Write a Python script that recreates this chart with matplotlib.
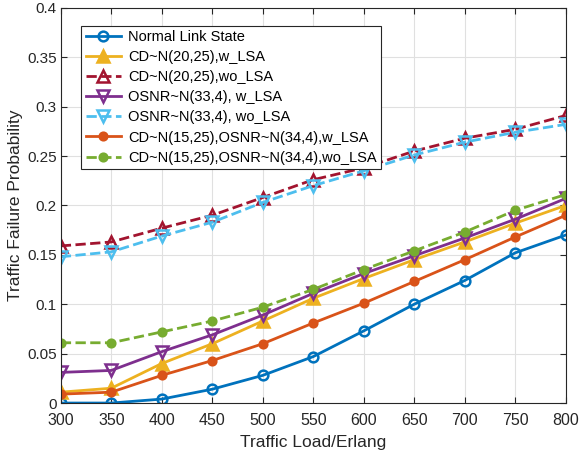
import numpy as np
import matplotlib
matplotlib.use("Agg")
import matplotlib.pyplot as plt

plt.rcParams.update({
    "font.family": ["Liberation Sans", "DejaVu Sans"],
    "font.size": 10,
})

load = [300, 350, 400, 450, 500, 550, 600, 650, 700, 750, 800]
normal = [0.0, 0.0, 0.004, 0.014, 0.028, 0.047, 0.073, 0.100, 0.124, 0.152, 0.170]
cd_w = [0.011, 0.015, 0.040, 0.060, 0.083, 0.106, 0.126, 0.145, 0.163, 0.182, 0.200]
cd_wo = [0.159, 0.163, 0.177, 0.190, 0.208, 0.226, 0.238, 0.255, 0.268, 0.277, 0.291]
osnr_w = [0.031, 0.033, 0.052, 0.069, 0.089, 0.111, 0.131, 0.149, 0.167, 0.186, 0.207]
osnr_wo = [0.148, 0.153, 0.169, 0.183, 0.203, 0.220, 0.235, 0.251, 0.264, 0.274, 0.282]
both_w = [0.009, 0.011, 0.028, 0.043, 0.060, 0.081, 0.101, 0.123, 0.145, 0.168, 0.190]
both_wo = [0.061, 0.061, 0.072, 0.083, 0.097, 0.115, 0.135, 0.154, 0.173, 0.195, 0.211]

series = [
    (normal, "Normal Link State", "#0072BD", "-", "o", "none", 7),
    (cd_w, "CD~N(20,25),w_LSA", "#EDB120", "-", "^", "#EDB120", 8),
    (cd_wo, "CD~N(20,25),wo_LSA", "#A2142F", "--", "^", "none", 8),
    (osnr_w, "OSNR~N(33,4), w_LSA", "#7E2F8E", "-", "v", "none", 8),
    (osnr_wo, "OSNR~N(33,4), wo_LSA", "#4DBEEE", "--", "v", "none", 8),
    (both_w, "CD~N(15,25),OSNR~N(34,4),w_LSA", "#D95319", "-", "o", "#D95319", 5.5),
    (both_wo, "CD~N(15,25),OSNR~N(34,4),wo_LSA", "#77AC30", "--", "o", "#77AC30", 5.5),
]

fig = plt.figure(figsize=(5.79, 4.58), dpi=100)
ax = fig.add_axes([0.105, 0.12, 0.872, 0.863])
for y, lbl, c, ls, m, fc, ms in series:
    ax.plot(load, y, color=c, linestyle=ls, linewidth=2, marker=m,
            markerfacecolor=fc, markeredgecolor=c, markeredgewidth=1.8,
            markersize=ms, label=lbl)

ax.set_xlim(300, 800)
ax.set_ylim(0, 0.4)
ax.set_xticks(load)
ax.set_yticks(np.arange(0, 0.41, 0.05))
ax.set_yticklabels(["0", "0.05", "0.1", "0.15", "0.2", "0.25", "0.3", "0.35", "0.4"])
ax.grid(True, color="#e0e0e0", linewidth=0.8)
ax.set_axisbelow(True)
ax.tick_params(direction="in", top=True, right=True, length=4,
               color="#262626", labelcolor="#262626")
ax.tick_params(axis="x", pad=7, labelsize=11.5)
ax.tick_params(axis="y", pad=3, labelsize=11)
for s in ax.spines.values():
    s.set_color("#262626")
    s.set_linewidth(0.8)
ax.set_xlabel("Traffic Load/Erlang", fontsize=12.5, color="#262626", labelpad=5)
ax.set_ylabel("Traffic Failure Probability", fontsize=12.5, color="#262626", labelpad=3)
leg = ax.legend(loc="upper left", bbox_to_anchor=(0.041, 0.955), fontsize=10.5,
                fancybox=False, edgecolor="#262626", framealpha=1,
                handlelength=2.4, labelspacing=0.42, borderpad=0.3,
                handletextpad=0.5, borderaxespad=0)
leg.get_frame().set_linewidth(0.8)

fig.savefig("out.png")
